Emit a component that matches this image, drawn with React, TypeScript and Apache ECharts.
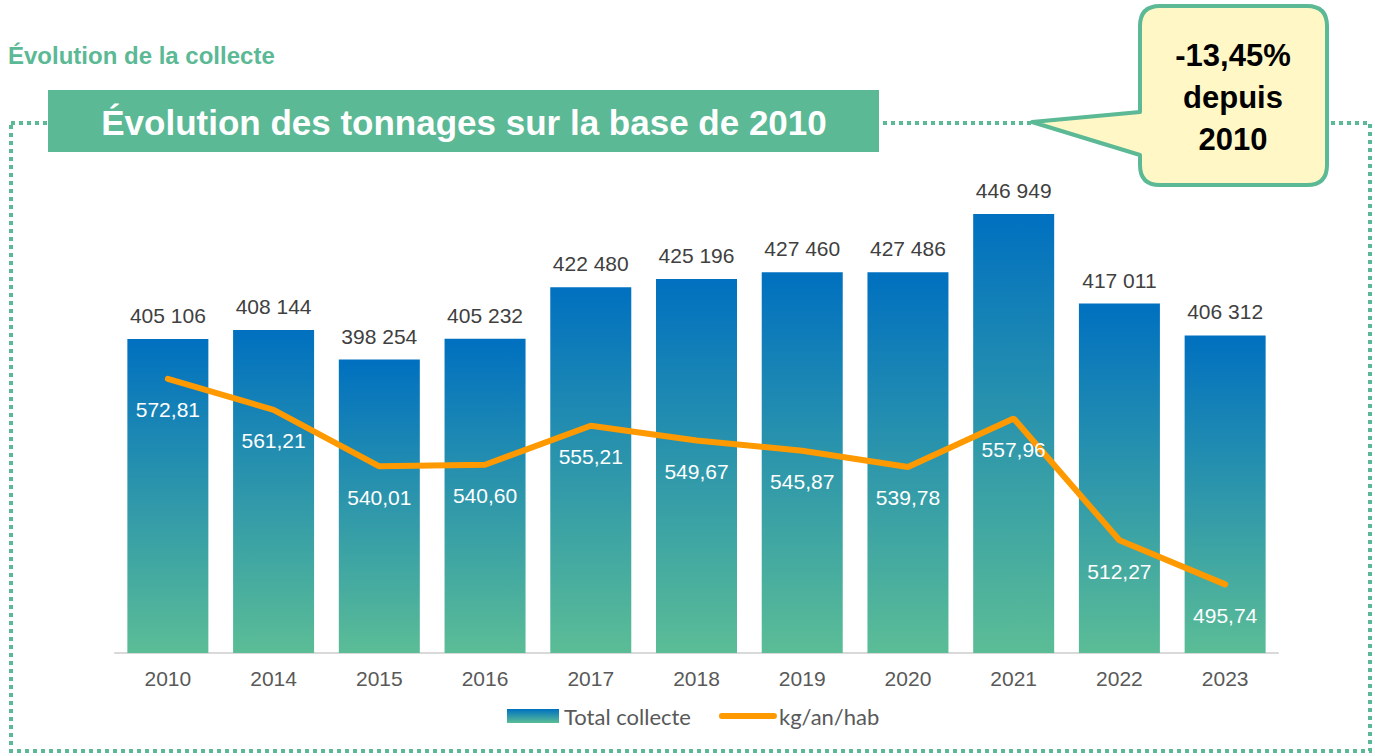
import React, { useEffect, useRef } from "react";
import * as echarts from "echarts";

const years = ["2010", "2014", "2015", "2016", "2017", "2018", "2019", "2020", "2021", "2022", "2023"];
const totalCollecte = [405106, 408144, 398254, 405232, 422480, 425196, 427460, 427486, 446949, 417011, 406312];
const kgAnHab = [572.81, 561.21, 540.01, 540.6, 555.21, 549.67, 545.87, 539.78, 557.96, 512.27, 495.74];

const GREEN = "#5bb995";
const NUM_FONT = "Liberation Sans";

const calloutPath =
  "M 1160 6 L 1307 6 Q 1327 6 1327 26 L 1327 165 Q 1327 185 1307 185 L 1160 185 Q 1140 185 1140 165 L 1140 155 L 1032 122 L 1140 112 L 1140 26 Q 1140 6 1160 6 Z";

let registered = false;

function fmtThousands(v: number): string {
  return String(v).replace(/\B(?=(\d{3})+(?!\d))/g, " ");
}

export default function App() {
  const ref = useRef<HTMLDivElement>(null);
  useEffect(() => {
    if (!ref.current) return;
    if (!registered) {
      echarts.graphic.registerShape("callout", echarts.graphic.extendPath(calloutPath, {}) as any);
      registered = true;
    }
    const chart = echarts.init(ref.current, null, { renderer: "svg" });
    const barGradient = new echarts.graphic.LinearGradient(0, 0, 0, 1, [
      { offset: 0, color: "#0070c0" },
      { offset: 1, color: "#5bbd96" },
    ]);
    chart.setOption({
      animation: false,
      backgroundColor: "#ffffff",
      textStyle: { fontFamily: NUM_FONT },
      grid: { left: 115, right: 97, top: 205, bottom: 103, containLabel: false },
      legend: {
        left: 502,
        top: 700,
        itemWidth: 52,
        itemHeight: 14,
        itemGap: 28,
        textStyle: { fontFamily: "Lato", fontSize: 22, color: "#595959" },
        data: [
          { name: "Total collecte", icon: "rect" },
          { name: "kg/an/hab", lineStyle: { width: 6, cap: "round", color: "#ff9900" } },
        ],
      },
      xAxis: {
        type: "category",
        data: years,
        axisLine: { lineStyle: { color: "#d9d9d9", width: 2 } },
        axisTick: { show: false },
        axisLabel: { color: "#595959", fontSize: 21, margin: 15, fontFamily: NUM_FONT },
      },
      yAxis: [
        { type: "value", min: 300000, max: 450000, show: false, splitLine: { show: false } },
        { type: "value", min: 470, max: 638, show: false, splitLine: { show: false } },
      ],
      series: [
        {
          name: "Total collecte",
          type: "bar",
          data: totalCollecte,
          barWidth: 81,
          itemStyle: { color: barGradient },
          label: {
            show: true,
            position: "top",
            distance: 13,
            color: "#404040",
            fontSize: 21,
            fontFamily: NUM_FONT,
            formatter: (p: any) => fmtThousands(p.value),
          },
          z: 2,
        },
        {
          name: "kg/an/hab",
          type: "line",
          yAxisIndex: 1,
          data: kgAnHab,
          showSymbol: true,
          symbol: "circle",
          symbolSize: 1,
          lineStyle: { color: "#ff9900", width: 6, cap: "round" },
          itemStyle: { color: "rgba(0,0,0,0)" },
          label: {
            show: true,
            position: "bottom",
            distance: 20,
            color: "#ffffff",
            fontSize: 21,
            fontFamily: NUM_FONT,
            formatter: (p: any) => p.value.toFixed(2).replace(".", ","),
          },
          z: 3,
        },
      ],
      graphic: [
        {
          type: "text",
          x: 8,
          y: 55,
          style: {
            text: "Évolution de la collecte",
            font: "bold 24px 'Liberation Sans'",
            fill: GREEN,
            textAlign: "left",
            textVerticalAlign: "middle",
          },
        },
        {
          type: "rect",
          shape: { x: 11, y: 123, width: 1359, height: 628 },
          style: { fill: "none", stroke: GREEN, lineWidth: 4, lineDash: [4, 4] },
          z: 0,
        },
        {
          type: "rect",
          shape: { x: 48, y: 90, width: 831, height: 62 },
          style: { fill: GREEN },
          z: 10,
        },
        {
          type: "text",
          x: 464,
          y: 122,
          style: {
            text: "Évolution des tonnages sur la base de 2010",
            font: "bold 35px 'Liberation Sans'",
            fill: "#ffffff",
            textAlign: "center",
            textVerticalAlign: "middle",
          },
          z: 11,
        },
        {
          type: "callout",
          x: 0,
          y: 0,
          shape: {},
          style: { fill: "#fff8c6", stroke: GREEN, lineWidth: 4, lineJoin: "round" },
          z: 10,
        },
        {
          type: "text",
          x: 1233,
          y: 97,
          style: {
            text: "-13,45%\ndepuis\n2010",
            font: "bold 31px 'Liberation Sans'",
            lineHeight: 42,
            fill: "#000000",
            textAlign: "center",
            textVerticalAlign: "middle",
          },
          z: 11,
        },
      ],
    });
    return () => chart.dispose();
  }, []);
  return <div ref={ref} style={{ position: "fixed", left: 0, top: 0, width: 1375, height: 756 }} />;
}
